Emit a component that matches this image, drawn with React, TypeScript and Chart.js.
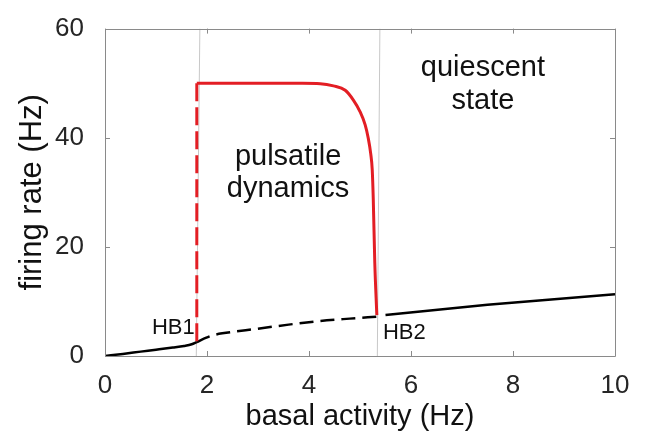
import React, { useEffect, useRef } from 'react';
import { Chart, registerables } from 'chart.js';

Chart.register(...registerables);

// ---- data ----
const X_TICKS = [0, 2, 4, 6, 8, 10];
const Y_TICKS = [0, 20, 40, 60];

const lowStableX = [0, 0.35, 0.7, 1.0, 1.33, 1.55, 1.7, 1.8];
const lowStableY = [0, 0.38, 0.8, 1.15, 1.55, 1.85, 2.15, 2.55];

const unstableX = [1.8, 1.9, 2.0, 2.1, 2.3, 3.0, 3.6, 4.2, 4.8, 5.33];
const unstableY = [2.55, 3.0, 3.4, 3.75, 4.15, 5.0, 5.75, 6.4, 6.85, 7.2];

const highStableX = [5.5, 7.5, 10];
const highStableY = [7.5, 9.4, 11.3];

const redVertX = [1.8, 1.8];
const redVertY = [50, 2.6];

const oscMaxX = [1.8, 3.0, 3.8, 4.22, 4.48, 4.71, 4.87, 5.0, 5.1, 5.16, 5.21, 5.24, 5.26, 5.29, 5.33];
const oscMaxY = [50, 50, 49.97, 49.9, 49.5, 48.7, 46.9, 44.8, 42.4, 40.0, 37.1, 34.1, 28.8, 17.1, 7.5];

const hb1GuideX = [1.86, 1.79];
const hb1GuideY = [60, 0];
const hb2GuideX = [5.39, 5.34];
const hb2GuideY = [60, 0];

const annotations = [
  { lines: ['pulsatile', 'dynamics'], x: 3.59, y: [35, 29.1], align: 'center', size: 29 },
  { lines: ['quiescent', 'state'], x: 7.41, y: [51.4, 45.2], align: 'center', size: 29 },
  { lines: ['HB1'], x: 1.76, y: [4.1], align: 'right', size: 22 },
  { lines: ['HB2'], x: 5.45, y: [3.2], align: 'left', size: 22 },
];

const FONT = '"Liberation Sans", Arial, Helvetica, sans-serif';
const RED = '#e31e24';

const pts = (xs: number[], ys: number[]) => xs.map((x, i) => ({ x, y: ys[i] }));

const framePlugin = {
  id: 'frame',
  afterDatasetsDraw(chart: any) {
    const { ctx, chartArea: a, scales } = chart;
    const xs = scales.x, ys = scales.y;
    ctx.save();
    ctx.strokeStyle = '#8a8a8a';
    ctx.lineWidth = 1;
    ctx.beginPath();
    ctx.rect(Math.round(a.left) + 0.5, Math.round(a.top) + 0.5, Math.round(a.right - a.left), Math.round(a.bottom - a.top));
    ctx.stroke();
    const tl = 5;
    ctx.beginPath();
    X_TICKS.forEach((v) => {
      const p = Math.round(xs.getPixelForValue(v)) + 0.5;
      ctx.moveTo(p, a.bottom); ctx.lineTo(p, a.bottom - tl);
      ctx.moveTo(p, a.top); ctx.lineTo(p, a.top + tl);
    });
    Y_TICKS.forEach((v) => {
      const p = Math.round(ys.getPixelForValue(v)) + 0.5;
      ctx.moveTo(a.left, p); ctx.lineTo(a.left + tl, p);
      ctx.moveTo(a.right, p); ctx.lineTo(a.right - tl, p);
    });
    ctx.stroke();
    // annotations
    ctx.fillStyle = '#111';
    ctx.textBaseline = 'alphabetic';
    annotations.forEach((an) => {
      ctx.font = `${an.size}px ${FONT}`;
      ctx.textAlign = an.align as CanvasTextAlign;
      an.lines.forEach((t, i) => {
        ctx.fillText(t, xs.getPixelForValue(an.x), ys.getPixelForValue(an.y[i]));
      });
    });
    ctx.restore();
  },
};

export default function App() {
  const ref = useRef<HTMLCanvasElement | null>(null);
  useEffect(() => {
    document.body.style.margin = '0';
    const canvas = ref.current!;
    const line = (data: any, color: string, width: number, dash: number[] = [], mono = false) => ({
      data,
      borderColor: color,
      borderWidth: width,
      borderDash: dash,
      pointRadius: 0,
      fill: false,
      showLine: true,
      tension: 0,
      cubicInterpolationMode: mono ? 'monotone' : 'default',
      borderCapStyle: 'butt',
    });
    const chart = new Chart(canvas, {
      type: 'scatter',
      data: {
        datasets: [
          line(pts(oscMaxX, oscMaxY), RED, 3, [], true),
          line(pts(redVertX, redVertY), RED, 3, [18, 6]),
          line(pts(lowStableX, lowStableY), '#000', 2.5, [], true),
          line(pts(unstableX, unstableY), '#000', 2.5, [14, 7], true),
          line(pts(highStableX, highStableY), '#000', 2.5),
          line(pts(hb1GuideX, hb1GuideY), '#c8c8c8', 1),
          line(pts(hb2GuideX, hb2GuideY), '#c8c8c8', 1),
        ] as any,
      },
      options: {
        responsive: false,
        devicePixelRatio: 1,
        animation: false,
        layout: { padding: { top: 20, right: 31, left: 0, bottom: 0 } },
        plugins: { legend: { display: false }, tooltip: { enabled: false } },
        scales: {
          x: {
            type: 'linear',
            min: 0,
            max: 10,
            afterFit: (s: any) => { s.height = 75; },
            afterBuildTicks: (s: any) => { s.ticks = X_TICKS.map((v) => ({ value: v })); },
            grid: { display: false },
            border: { display: false },
            ticks: { color: '#262626', font: { family: FONT, size: 26 }, padding: 6, maxRotation: 0 },
            title: {
              display: true,
              text: 'basal activity (Hz)',
              color: '#111',
              font: { family: FONT, size: 29, lineHeight: 1 },
              padding: { top: 0, bottom: 0 },
            },
          },
          y: {
            type: 'linear',
            min: 0,
            max: 60,
            afterFit: (s: any) => { s.width = 105; },
            afterBuildTicks: (s: any) => { s.ticks = Y_TICKS.map((v) => ({ value: v })); },
            grid: { display: false },
            border: { display: false },
            ticks: { color: '#262626', font: { family: FONT, size: 26 }, padding: 13 },
            title: {
              display: true,
              text: 'firing rate (Hz)',
              color: '#111',
              font: { family: FONT, size: 31, lineHeight: 1 },
              padding: { top: 17, bottom: 0 },
            },
          },
        },
      } as any,
      plugins: [framePlugin],
    });
    return () => chart.destroy();
  }, []);
  return (
    <div style={{ width: 646, height: 431 }}>
      <canvas ref={ref} width={646} height={431} style={{ display: 'block' }} />
    </div>
  );
}
